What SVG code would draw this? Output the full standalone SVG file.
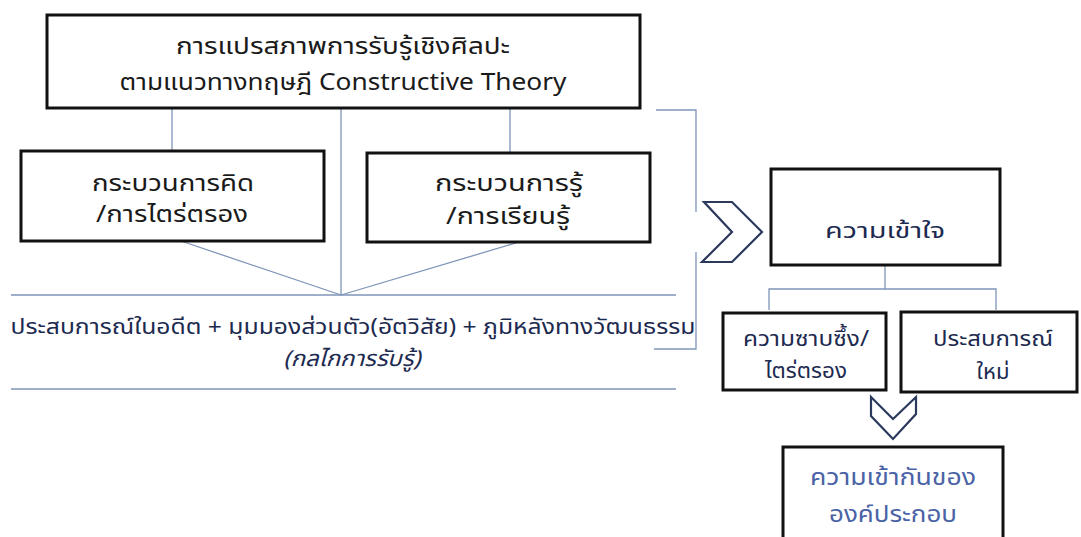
<svg xmlns="http://www.w3.org/2000/svg" width="1081" height="537" viewBox="0 0 1081 537">
<style>
.box{fill:#fff;stroke:#111;stroke-width:3}
.ln{fill:none;stroke:#7f95b8;stroke-width:1.3}
.chev{fill:#fff;stroke:#2b3a5c;stroke-width:2.2;stroke-linejoin:miter}
text{font-family:"Noto Sans Thai","Noto Sans","Liberation Sans",sans-serif;text-anchor:middle}
.t{font-size:23px;fill:#1a1a1a}
.n{font-size:22px;fill:#1d2a50}
.b{font-size:23px;fill:#4a63a6}
</style>
<rect width="1081" height="537" fill="#fff"/>
<g id="connectors">
<line class="ln" x1="172" y1="108" x2="172" y2="150"/>
<line class="ln" x1="341" y1="108" x2="341" y2="295"/>
<line class="ln" x1="510" y1="108" x2="510" y2="152"/>
<line class="ln" x1="181" y1="241" x2="341" y2="295"/>
<line class="ln" x1="519" y1="242" x2="341" y2="295"/>
<line class="ln" x1="11" y1="295" x2="676" y2="295"/>
<line class="ln" x1="11" y1="389" x2="676" y2="389"/>
<polyline class="ln" points="656,110 696,110 696,212"/>
<polyline class="ln" points="696,252 696,349 654,349"/>
<line class="ln" x1="885" y1="265" x2="885" y2="289"/>
<polyline class="ln" points="769,310 769,289 996,289 996,310"/>
</g>
<g id="top">
<rect class="box" x="47" y="15" width="593" height="93"/>
<text class="t" x="343" y="54" textLength="334" lengthAdjust="spacingAndGlyphs">การแปรสภาพการรับรู้เชิงศิลปะ</text>
<text class="t" x="343" y="90" textLength="447" lengthAdjust="spacingAndGlyphs">ตามแนวทางทฤษฎี Constructive Theory</text>
</g>
<g id="think">
<rect class="box" x="21" y="151" width="303" height="90"/>
<text class="t" x="173" y="191" textLength="162" lengthAdjust="spacingAndGlyphs">กระบวนการคิด</text>
<text class="t" x="172" y="222" textLength="152" lengthAdjust="spacingAndGlyphs">/การไตร่ตรอง</text>
</g>
<g id="learn">
<rect class="box" x="367" y="153" width="283" height="89"/>
<text class="t" x="509" y="191" textLength="148" lengthAdjust="spacingAndGlyphs">กระบวนการรู้</text>
<text class="t" x="508" y="224" textLength="124" lengthAdjust="spacingAndGlyphs">/การเรียนรู้</text>
</g>
<g id="mechanism">
<text class="n" x="353" y="334" textLength="685" lengthAdjust="spacingAndGlyphs">ประสบการณ์ในอดีต + มุมมองส่วนตัว(อัตวิสัย) + ภูมิหลังทางวัฒนธรรม</text>
<text class="n" x="352" y="366" font-size="21" font-style="italic" textLength="137" lengthAdjust="spacingAndGlyphs">(กลไกการรับรู้)</text>
</g>
<g id="arrow-right">
<polygon class="chev" points="704,202 732,202 762,232 732,262 702,262 732,232"/>
</g>
<g id="understanding">
<rect class="box" x="771" y="169" width="229" height="96"/>
<text class="n" x="885" y="238" font-size="23" textLength="120" lengthAdjust="spacingAndGlyphs">ความเข้าใจ</text>
</g>
<g id="appreciation">
<rect class="box" x="723" y="313" width="163" height="77"/>
<text class="n" x="806" y="346" font-size="20" textLength="126" lengthAdjust="spacingAndGlyphs">ความซาบซึ้ง/</text>
<text class="n" x="806" y="378" font-size="16" textLength="82" lengthAdjust="spacingAndGlyphs">ไตร่ตรอง</text>
</g>
<g id="newexp">
<rect class="box" x="901" y="312" width="176" height="80"/>
<text class="n" x="993" y="346" font-size="20" textLength="120" lengthAdjust="spacingAndGlyphs">ประสบการณ์</text>
<text class="n" x="993" y="379" font-size="20">ใหม่</text>
</g>
<g id="arrow-down">
<polygon class="chev" points="871,397 893,419 916,397 916,414 893,439 871,416"/>
</g>
<g id="harmony">
<rect class="box" x="783" y="447" width="220" height="92"/>
<text class="b" x="893" y="485" textLength="166" lengthAdjust="spacingAndGlyphs">ความเข้ากันของ</text>
<text class="b" x="893" y="522" textLength="128" lengthAdjust="spacingAndGlyphs">องค์ประกอบ</text>
</g>
</svg>
